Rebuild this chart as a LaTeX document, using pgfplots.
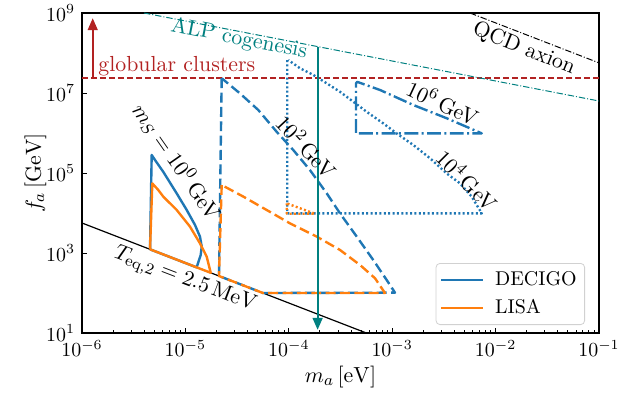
\documentclass[border=0pt]{standalone}
\usepackage{pgfplots}
\pgfplotsset{compat=1.18}
\usetikzlibrary{arrows.meta}
\definecolor{cblue}{RGB}{31,119,180}
\definecolor{corange}{RGB}{255,127,14}
\definecolor{cteal}{RGB}{0,128,128}
\definecolor{cred}{RGB}{178,34,34}
\newcommand{\lbl}{\fontsize{10.95}{13}\selectfont}
\begin{document}
\begin{tikzpicture}
\begin{axis}[
  xmode=log, ymode=log,
  scale only axis, width=258.5bp, height=160bp,
  xmin=1e-6, xmax=1e-1, ymin=10, ymax=1e9,
  xtick={1e-6,1e-5,1e-4,1e-3,1e-2,1e-1},
  ytick={1e1,1e3,1e5,1e7,1e9},
  yminorticks=false,
  tick pos=left, tick align=inside,
  major tick length=2.5pt, minor tick length=1.4pt,
  every tick/.style={black, line width=0.5pt},
  axis line style={line width=0.6pt},
  xlabel={$m_a\,[\mathrm{eV}]$}, ylabel={$f_a\,[\mathrm{GeV}]$},
  label style={font=\lbl},
  xlabel style={yshift=2pt},
  ylabel style={yshift=-7pt},
  legend style={at={(0.973,0.025)}, anchor=south east, draw=black!18, rounded corners=2pt,
    inner xsep=2pt, inner ysep=2pt, row sep=1.5pt, font=\normalsize},
  legend cell align=left,
  legend image code/.code={\draw[#1] (0cm,0cm) -- (0.73cm,0cm); \path (0.86cm,0cm);},
  reg/.style={line width=1.2pt, line join=round, forget plot},
  dsh/.style={dash pattern=on 5pt off 2.2pt},
  dtt/.style={dash pattern=on 1pt off 1.2pt},
  dsd/.style={dash pattern=on 7pt off 1.7pt on 1pt off 1.7pt},
]
% globular clusters
\addplot[cred, line width=0.75pt, dash pattern=on 3pt off 1.5pt, forget plot] coordinates {(1e-6,2.4e7) (1e-1,2.4e7)};
\addplot[cred, line width=0.8pt, -{Triangle[width=5pt,length=6pt]}, forget plot] coordinates {(1.27e-6,2.4e7) (1.27e-6,7.4e8)};
% ALP cogenesis
\addplot[cteal, line width=0.5pt, dash pattern=on 3.2pt off 1pt on 0.5pt off 1pt, forget plot] coordinates {(3.98e-6,1e9) (1e-1,6.31e6)};
% QCD axion
\addplot[black, line width=0.5pt, dash pattern=on 3.2pt off 1pt on 0.5pt off 1pt, forget plot] coordinates {(5.66e-3,1e9) (1e-1,5.66e7)};
% T_eq line
\addplot[black, line width=0.6pt, forget plot] coordinates {(1e-6,5623) (1e-3,5.623)};

% DECIGO m_S = 1 GeV
\addplot[cblue, reg] coordinates {
 (4.55e-6,1236) (4.72e-6,2.82e5) (5.13e-6,2.04e5) (6.11e-6,1.07e5) (8.24e-6,3.09e4)
 (1.03e-5,1.19e4) (1.239e-5,5012) (1.384e-5,2570) (1.439e-5,1445) (1.406e-5,891)
 (1.285e-5,437) (4.55e-6,1236)};
% LISA m_S = 1 GeV
\addplot[corange, reg] coordinates {
 (4.55e-6,1236) (4.786e-6,5.5e4) (5.47e-6,3.76e4) (6.11e-6,2.57e4) (8.24e-6,1.19e4)
 (1.107e-5,4571) (1.384e-5,1738) (1.607e-5,813) (1.758e-5,320) (4.55e-6,1236)};

% DECIGO m_S = 100 GeV
\addplot[cblue, reg, dsh] coordinates {
 (2.244e-5,2.34e7) (2.113e-5,266) (5.62e-5,100) (1.064e-3,102)
 (8.85e-4,211) (6.56e-4,668) (4.54e-4,2570) (3.13e-4,9772) (2.33e-4,3.09e4)
 (1.60e-4,1.19e5) (1.104e-4,3.76e5) (7.64e-5,1.07e6) (5.07e-5,3.76e6)
 (3.37e-5,9.77e6) (2.244e-5,2.34e7)};
% LISA m_S = 100 GeV
\addplot[corange, reg, dsh] coordinates {
 (2.244e-5,5.01e4) (2.113e-5,266) (5.62e-5,100) (8.51e-4,100)
 (6.82e-4,234) (4.89e-4,501) (3.13e-4,1189) (1.862e-4,2570) (1.028e-4,5495)
 (6.11e-5,1.19e4) (3.63e-5,2.57e4) (2.244e-5,5.01e4)};

% DECIGO m_S = 1e4 GeV
\addplot[cblue, reg, dtt] coordinates {
 (9.66e-5,6.68e7) (9.66e-5,9.8e3) (7.35e-3,9.8e3)
 (5.87e-3,2.57e4) (4.53e-3,5.5e4) (3.36e-3,9.77e4) (2.32e-3,2.34e5) (1.60e-3,5.01e5)
 (1.104e-3,9.77e5) (8.2e-4,1.74e6) (5.66e-4,3.39e6) (4.21e-4,6.03e6)
 (3.13e-4,1.07e7) (2.33e-4,1.74e7) (1.73e-4,2.82e7) (1.28e-4,4.17e7) (9.89e-5,6.68e7)};
% LISA m_S = 1e4 GeV
\addplot[corange, reg, dtt] coordinates {
 (9.55e-5,1.74e4) (9.55e-5,9.6e3) (1.79e-4,9.6e3) (9.55e-5,1.74e4)};

% DECIGO m_S = 1e6 GeV
\addplot[cblue, reg, dsd] coordinates {
 (4.47e-4,1e6) (4.47e-4,1.74e7) (4.59e-4,1.9e7) (7.62e-4,1.19e7)
 (1.60e-3,5.01e6) (3.36e-3,2.34e6) (7.35e-3,9.8e5) (4.47e-4,9.8e5)};

% teal arrow
\addplot[cteal, line width=0.9pt, -{Triangle[width=5pt,length=6pt]}, forget plot] coordinates {(1.9e-4,1.45e8) (1.9e-4,12)};

% labels
\node[cred, anchor=west, inner sep=0pt, font=\lbl] at (1.43e-6,4.57e7) {globular clusters};
\node[cteal, rotate=-11, inner sep=0pt, font=\lbl] at (3.3e-5,2.24e8) {ALP cogenesis};
\node[rotate=-22, inner sep=0pt, font=\lbl] at (1.88e-2,1.26e8) {QCD axion};
\node[rotate=-25, inner sep=0pt, font=\lbl] at (3.1e-3,5.77e6) {$10^6\,$GeV};
\node[rotate=-45, inner sep=0pt, font=\lbl] at (5.35e-3,6.68e4) {$10^4\,$GeV};
\node[rotate=-47, inner sep=0pt, font=\lbl] at (1.49e-4,4.54e5) {$10^2\,$GeV};
\node[rotate=-55, inner sep=0pt, font=\lbl] at (8.24e-6,1.91e5) {$m_S = 10^0\,$GeV};
\node[rotate=-21, inner sep=0pt, font=\lbl] at (9.91e-6,211) {$T_{\mathrm{eq},2} = 2.5\,\mathrm{MeV}$};

\addlegendimage{cblue, line width=1.2pt}
\addlegendentry{DECIGO}
\addlegendimage{corange, line width=1.2pt}
\addlegendentry{LISA}
\end{axis}
\pgfresetboundingbox
\useasboundingbox ([shift={(-41bp,-32bp)}]current axis.south west) rectangle ([shift={(20bp,6.5bp)}]current axis.north east);
\end{tikzpicture}
\end{document}
